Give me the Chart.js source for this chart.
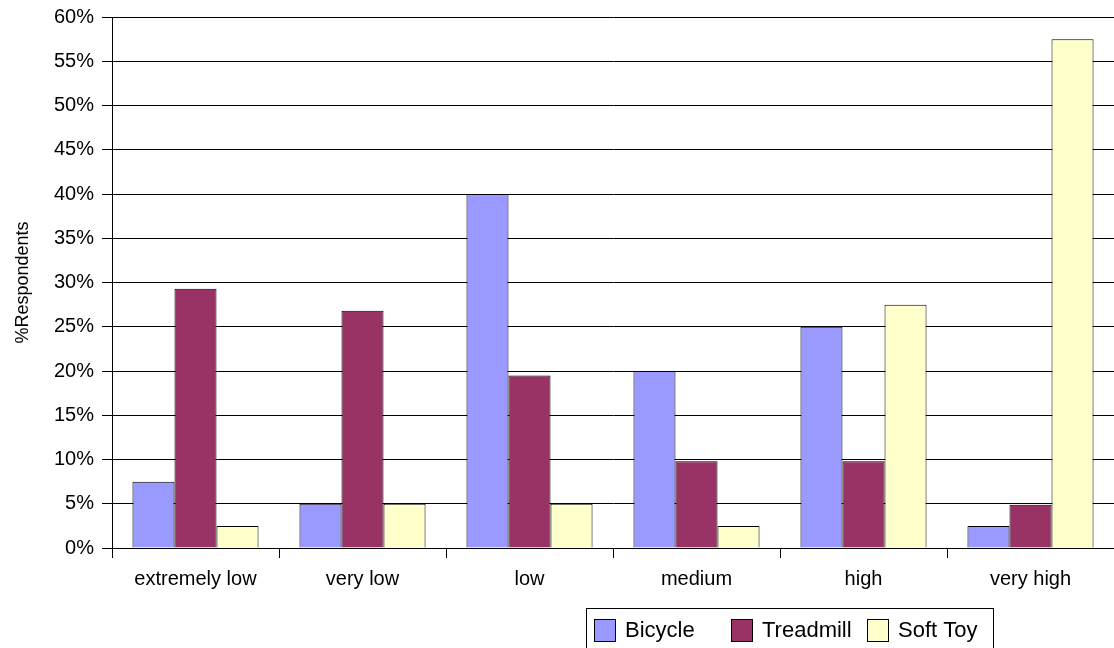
<!DOCTYPE html>
<html>
<head>
<meta charset="utf-8">
<script src="https://cdn.jsdelivr.net/npm/chart.js@4/dist/chart.umd.min.js"></script>
<style>
  html, body { margin: 0; padding: 0; background: #ffffff; }
  #wrap { width: 1114px; height: 648px; position: relative; }
  canvas { display: block; }
</style>
</head>
<body>
<div id="wrap"><canvas id="c" width="1114" height="648"></canvas></div>
<script>
// Share of respondents per rating level, by product
const categories = ['extremely low', 'very low', 'low', 'medium', 'high', 'very high'];
const bicycle   = [7.5, 5, 40, 20, 25, 2.5];
const treadmill = [29.3, 26.8, 19.5, 9.8, 9.8, 4.9];
const softToy   = [2.5, 5, 5, 2.5, 27.5, 57.5];
const seriesNames = ['Bicycle', 'Treadmill', 'Soft Toy'];
const yTicks = [0, 5, 10, 15, 20, 25, 30, 35, 40, 45, 50, 55, 60];

const FONT = "'Liberation Sans', Arial, sans-serif";

// Boxed legend drawn under the plot, right of centre
const boxedLegend = {
  id: 'boxedLegend',
  afterDraw(chart) {
    const ctx = chart.ctx;
    const left = 586, top = 608, right = 993, bottom = 660;
    ctx.save();
    ctx.strokeStyle = '#000000';
    ctx.lineWidth = 1;
    ctx.strokeRect(left + 0.5, top + 0.5, right - left, bottom - top);
    ctx.font = '22px ' + FONT;
    ctx.textBaseline = 'middle';
    ctx.textAlign = 'left';
    const xs = [594, 731, 867];
    const midY = 630;
    chart.data.datasets.forEach((ds, i) => {
      const x = xs[i];
      ctx.fillStyle = ds.backgroundColor;
      ctx.fillRect(x, midY - 11, 21, 22);
      ctx.strokeStyle = '#000000';
      ctx.strokeRect(x + 0.5, midY - 11 + 0.5, 21, 22);
      ctx.fillStyle = '#000000';
      ctx.fillText(ds.label, x + 31, midY + 1);
    });
    ctx.restore();
  }
};

new Chart(document.getElementById('c'), {
  type: 'bar',
  data: {
    labels: categories,
    datasets: [
      { label: seriesNames[0], data: bicycle,   backgroundColor: '#9999FF' },
      { label: seriesNames[1], data: treadmill, backgroundColor: '#993366' },
      { label: seriesNames[2], data: softToy,   backgroundColor: '#FFFFCC' }
    ].map(d => Object.assign(d, { borderColor: '#000000', borderWidth: 1 }))
  },
  options: {
    responsive: false,
    animation: false,
    events: [],
    layout: { padding: { top: 17, right: 0, left: 0, bottom: 0 } },
    datasets: { bar: { categoryPercentage: 0.755, barPercentage: 1.0 } },
    plugins: { legend: { display: false }, tooltip: { enabled: false } },
    scales: {
      x: {
        afterFit(scale) { scale.height = 100; scale.paddingLeft = 0; scale.paddingRight = 0; },
        grid: { display: true, drawOnChartArea: false, drawTicks: true, tickLength: 10, color: '#000000', offset: true },
        border: { display: true, color: '#000000' },
        ticks: { color: '#000000', font: { family: FONT, size: 20 }, padding: 9, maxRotation: 0, autoSkip: false }
      },
      y: {
        min: 0, max: 60,
        afterFit(scale) { scale.width = 112; scale.paddingTop = 0; scale.paddingBottom = 0; },
        afterBuildTicks(scale) { scale.ticks = yTicks.map(v => ({ value: v })); },
        grid: { color: '#000000', tickLength: 10, drawTicks: true },
        border: { display: true, color: '#000000' },
        ticks: { color: '#000000', font: { family: FONT, size: 20 }, padding: 8, callback: v => v + '%' },
        title: { display: true, text: '%Respondents', color: '#000000', font: { family: FONT, size: 18 }, padding: { top: 12, bottom: 0 } }
      }
    }
  },
  plugins: [boxedLegend]
});
</script>
</body>
</html>
